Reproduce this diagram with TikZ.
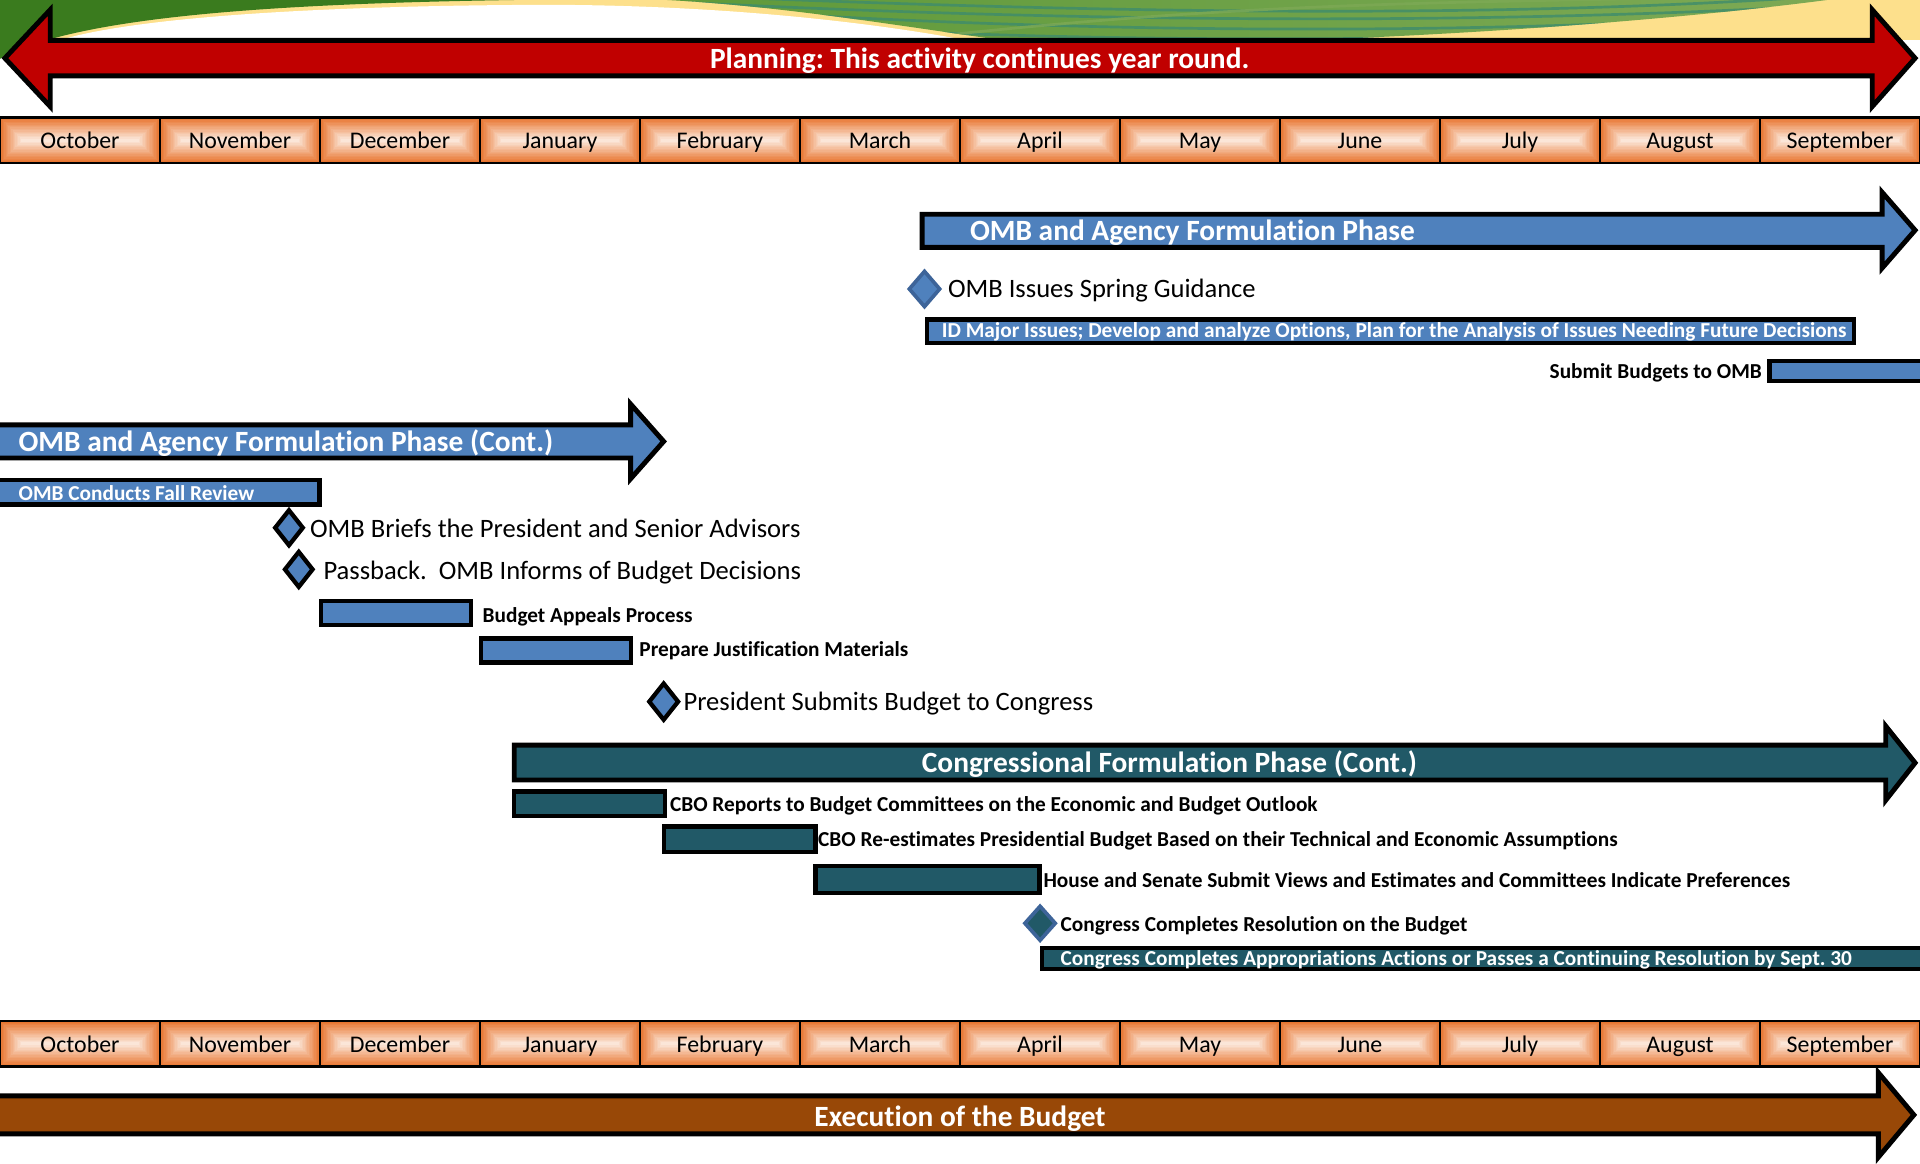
\documentclass[tikz,border=0pt]{standalone}
\usepackage{fontspec}
\setmainfont{Carlito}[Ligatures=NoCommon]
\usetikzlibrary{shapes.geometric}
\frenchspacing
\definecolor{cred}{HTML}{C00000}
\definecolor{cblue}{HTML}{4F81BD}
\definecolor{cblueedge}{HTML}{3D6499}
\definecolor{cteal}{HTML}{215967}
\definecolor{cbrown}{HTML}{984807}
\definecolor{morange}{HTML}{E8742E}
\definecolor{mpale}{HTML}{FBE6D8}
\definecolor{gdark}{HTML}{3A7B1E}
\definecolor{gmid}{HTML}{5F9A3A}
\definecolor{glight}{HTML}{7DA955}
\definecolor{gstripe}{HTML}{3E8C6C}
\definecolor{byellow}{HTML}{FDE08C}
\tikzset{
 bigarrow/.style={draw=black, line width=4pt, line join=miter},
 barbox/.style={draw=black, line width=3.5pt, inner sep=0pt, outer sep=0pt, anchor=north west},
 titletext/.style={font=\bfseries\fontsize{24}{28}\selectfont, text=white, inner sep=0pt, text height=15.2pt, text depth=0pt},
 monthtext/.style={font=\fontsize{19.5}{22}\selectfont, inner sep=0pt, text height=12.3pt, text depth=0pt},
 msltext/.style={font=\fontsize{21.7}{24}\selectfont, inner sep=0pt, text height=13.7pt, text depth=0pt, anchor=west},
 bartext/.style={font=\bfseries\fontsize{17.4}{20}\selectfont, inner sep=0pt, text height=11pt, text depth=0pt, anchor=west},
 milestone/.style={diamond, draw=black, line width=3.5pt, fill=cblue, inner sep=0pt, minimum width=24pt, minimum height=30pt},
 stripe/.style={draw=gstripe, line width=2.2pt, opacity=0.8},
}
\begin{document}
\begin{tikzpicture}[x=1pt,y=-1pt]
\useasboundingbox (0,0) rectangle (1568,950);
% ---------- top background ----------
\fill[byellow] (0,0) rectangle (1568,33);
\fill[gdark] (0,0) -- (420,0) .. controls (220,3) and (60,14) .. (0,48) -- cycle;
\fill[white] (48,33) .. controls (110,14) and (260,5) .. (430,4) .. controls (570,3) and (700,16) .. (790,33) -- cycle;
\begin{scope}
\clip (545,0) .. controls (640,5) and (740,22) .. (820,33) -- (1060,33) .. controls (1250,26) and (1400,12) .. (1492,0) -- cycle;
\shade[left color=gmid, right color=glight] (540,0) rectangle (1500,34);
\draw[stripe] (560,2) .. controls (800,14) and (1150,24) .. (1500,4);
\draw[stripe] (600,-2) .. controls (850,8) and (1200,18) .. (1500,-4);
\draw[stripe] (650,12) .. controls (900,26) and (1200,30) .. (1500,10);
\draw[stripe] (700,24) .. controls (950,36) and (1250,34) .. (1500,18);
\draw[stripe, draw=glight] (760,30) .. controls (1000,4) and (1150,2) .. (1400,-2);
\end{scope}
% ---------- planning arrow ----------
\draw[bigarrow, fill=cred] (4,47.5) -- (41,8) -- (41,33) -- (1529,33) -- (1529,8) -- (1564,47.5) -- (1529,87) -- (1529,62) -- (41,62) -- (41,87) -- cycle;
\node[titletext] (plan) at (800,48) {Planning: This activity continues year round.};
% ---------- month rows ----------
\foreach \i/\m in {0/October,1/November,2/December,3/January,4/February,5/March,6/April,7/May,8/June,9/July,10/August,11/September} {
  \pgfmathsetmacro\xa{\i*130.6667}
  \pgfmathsetmacro\xb{(\i+1)*130.6667}
  \foreach \yy/\row in {96/t,834/b} {
    \foreach \k in {0,...,15} {
      \pgfmathsetmacro\ins{\k*1.15}
      \pgfmathsetmacro\pc{\k*100/15}
      \fill[mpale!\pc!morange] (\xa+\ins,\yy+\ins) rectangle (\xb-\ins,\yy+37-\ins);
    }
    \draw[line width=2pt] (\xa,\yy) rectangle (\xb,\yy+37);
    \node[monthtext] (m\row\i) at ({(\xa+\xb)/2},\yy+19) {\m};
  }
}
% ---------- OMB and Agency Formulation Phase ----------
\draw[bigarrow, fill=cblue] (753,175) -- (1537,175) -- (1537,157) -- (1564,188) -- (1537,219) -- (1537,202) -- (753,202) -- cycle;
\node[titletext, anchor=west] (omb1) at (792,189) {OMB and Agency Formulation Phase};
\node[milestone, draw=cblueedge, line width=3pt, minimum width=26pt, minimum height=30pt] (d1) at (755,236) {};
\node[msltext] (d1t) at (774,236) {OMB Issues Spring Guidance};
\node[barbox, fill=cblue, minimum width=757pt, minimum height=19pt] (b1) at (757,261) {};
\node[bartext, text=white] (b1t) at (769,270.5) {ID Major Issues; Develop and analyze Options, Plan for the Analysis of Issues Needing Future Decisions};
\node[barbox, fill=cblue, minimum width=130pt, minimum height=16pt] (b2) at (1445,295) {};
\node[bartext, anchor=east] (b2t) at (1439,304) {Submit Budgets to OMB};
% ---------- OMB and Agency Formulation Phase (Cont.) ----------
\draw[bigarrow, fill=cblue] (-5,347) -- (515,347) -- (515,330) -- (542,360.5) -- (515,391) -- (515,374) -- (-5,374) -- cycle;
\node[titletext, anchor=west] (omb2) at (15,361) {OMB and Agency Formulation Phase (Cont.)};
\node[barbox, fill=cblue, minimum width=266pt, minimum height=20pt] (b3) at (-5,392) {};
\node[bartext, text=white] (b3t) at (15,403) {OMB Conducts Fall Review};
\node[milestone] (d2) at (236,431) {};
\node[msltext] (d2t) at (253,432) {OMB Briefs the President and Senior Advisors};
\node[milestone] (d3) at (244,465) {};
\node[msltext] (d3t) at (264,466) {Passback.\ \ OMB Informs of Budget Decisions};
\node[barbox, fill=cblue, minimum width=122.5pt, minimum height=19.6pt] (b4) at (262,491) {};
\node[bartext] (b4t) at (394,503) {Budget Appeals Process};
\node[barbox, fill=cblue, minimum width=122.5pt, minimum height=19.6pt] (b5) at (393,521.4) {};
\node[bartext] (b5t) at (522,531) {Prepare Justification Materials};
\node[milestone, minimum width=25pt, minimum height=31pt] (d4) at (542,573) {};
\node[msltext] (d4t) at (558,573) {President Submits Budget to Congress};
% ---------- Congressional Formulation Phase ----------
\draw[bigarrow, fill=cteal] (420,608.5) -- (1540,608.5) -- (1540,593) -- (1564,623) -- (1540,653.5) -- (1540,637) -- (420,637) -- cycle;
\node[titletext] (cong) at (955,623) {Congressional Formulation Phase (Cont.)};
\node[barbox, fill=cteal, minimum width=123pt, minimum height=20pt] (b6) at (420,646.3) {};
\node[bartext] (b6t) at (547,657) {CBO Reports to Budget Committees on the Economic and Budget Outlook};
\node[barbox, fill=cteal, minimum width=123.5pt, minimum height=20.5pt] (b7) at (542.5,675) {};
\node[bartext] (b7t) at (668,686) {CBO Re-estimates Presidential Budget Based on their Technical and Economic Assumptions};
\node[barbox, fill=cteal, minimum width=183pt, minimum height=22pt] (b8) at (666,707) {};
\node[bartext] (b8t) at (852,719) {House and Senate Submit Views and Estimates and Committees Indicate Preferences};
\node[milestone, draw=cblueedge, fill=cteal, line width=3pt, minimum width=26pt, minimum height=29pt] (d5) at (849.4,754) {};
\node[bartext] (d5t) at (866,755) {Congress Completes Resolution on the Budget};
\node[barbox, fill=cteal, minimum width=725pt, minimum height=17.5pt] (b9) at (851,774) {};
\node[bartext, text=white] (b9t) at (866,783) {Congress Completes Appropriations Actions or Passes a Continuing Resolution by Sept. 30};
% ---------- Execution ----------
\draw[bigarrow, fill=cbrown] (-5,895) -- (1534,895) -- (1534,876) -- (1563,910.5) -- (1534,945) -- (1534,926) -- (-5,926) -- cycle;
\node[titletext] (exec) at (784,912) {Execution of the Budget};
\end{tikzpicture}
\end{document}
